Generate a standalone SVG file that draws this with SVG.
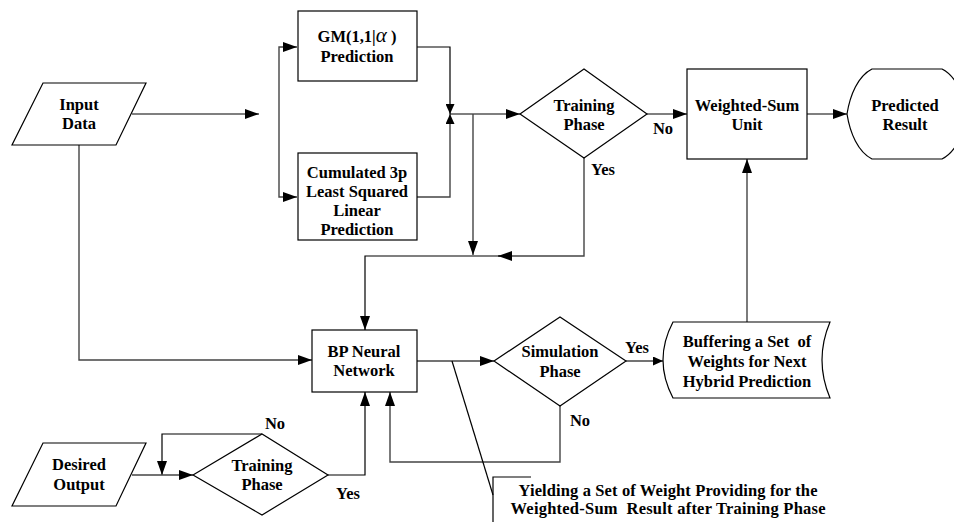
<svg xmlns="http://www.w3.org/2000/svg" width="954" height="522" viewBox="0 0 954 522">
<style>
.s{fill:#fff;stroke:#000;stroke-width:1.2}
.t{font-family:"Liberation Serif","Times New Roman",serif;font-weight:bold;font-size:16.5px;fill:#000;text-anchor:middle;white-space:pre}
.c{fill:none;stroke:#000;stroke-width:1.2}
.g{fill:none;stroke:#444;stroke-width:1.4}
</style>
<defs>
<marker id="a" markerUnits="userSpaceOnUse" markerWidth="14" markerHeight="10" refX="14" refY="5" orient="auto"><path d="M0,0 L14,5 L0,10 Z" fill="#000"/></marker>
<marker id="b" markerUnits="userSpaceOnUse" markerWidth="10" markerHeight="9" refX="10" refY="4.5" orient="auto"><path d="M0,0 L10,4.5 L0,9 Z" fill="#000"/></marker>
</defs>
<rect width="954" height="522" fill="#fff"/>
<g id="connectors">
<path class="c" d="M132,114 H259" marker-end="url(#a)"/>
<path class="g" d="M279,122 V47 H297" marker-end="url(#a)"/>
<path class="g" d="M279,122 V197 H297" marker-end="url(#a)"/>
<path class="c" d="M417,47 H450 V114" marker-end="url(#b)"/>
<path class="g" d="M417,197 H450 V114" marker-end="url(#b)"/>
<path class="c" d="M450,114 H520" marker-end="url(#a)"/>
<path class="g" d="M473,114 V255" marker-end="url(#a)"/>
<path class="g" d="M584,158 V256 H498" marker-end="url(#a)"/>
<path class="c" d="M500,256 H365 V330" marker-end="url(#a)"/>
<path class="c" d="M647,114 H687" marker-end="url(#a)"/>
<path class="c" d="M807,114 H847" marker-end="url(#a)"/>
<path class="g" d="M747,322 V159" marker-end="url(#a)"/>
<path class="g" d="M79,145 V360 H312" marker-end="url(#a)"/>
<path class="g" d="M417,361 H494" marker-end="url(#a)"/>
<path class="g" d="M626,361 H663" marker-end="url(#b)"/>
<path class="g" d="M560,406 V462 H390 V392" marker-end="url(#a)"/>
<path class="c" d="M328,475 H365 V392" marker-end="url(#a)"/>
<path class="c" d="M262,434 H162 V475" marker-end="url(#a)"/>
<path class="g" d="M132,475 H193" marker-end="url(#a)"/>
<path class="c" d="M452,361 L493,495"/>
<path class="c" d="M531,477 H493 V522"/>
</g>
<g id="input-data">
<path class="s" d="M43,83 H146 L116,145 H12 Z"/>
<text class="t" x="79" y="110">Input</text>
<text class="t" x="79" y="129">Data</text>
</g>
<g id="gm-prediction">
<rect class="s" x="298" y="11" width="119" height="70"/>
<text class="t" x="357" y="42">GM(1,1|<tspan font-style="italic" font-weight="normal" font-size="21">α</tspan> )</text>
<text class="t" x="357" y="62">Prediction</text>
</g>
<g id="cumulated-prediction">
<rect class="s" x="298" y="153" width="119" height="87"/>
<text class="t" x="357" y="178">Cumulated 3p</text>
<text class="t" x="357" y="197">Least Squared</text>
<text class="t" x="357" y="216">Linear</text>
<text class="t" x="357" y="235">Prediction</text>
</g>
<g id="training-phase-top">
<path class="s" d="M520,114 L584,69 L647,114 L584,158 Z"/>
<text class="t" x="584" y="111">Training</text>
<text class="t" x="584" y="130">Phase</text>
</g>
<g id="weighted-sum">
<rect class="s" x="687" y="69" width="120" height="90"/>
<text class="t" x="747" y="111">Weighted-Sum</text>
<text class="t" x="747" y="130">Unit</text>
</g>
<g id="predicted-result">
<path class="s" d="M872,69 H942 C956,76 964,95 967,114 C964,133 956,152 942,159 H872 C858,152 850,133 847,114 C850,95 858,76 872,69 Z"/>
<text class="t" x="905" y="111">Predicted</text>
<text class="t" x="905" y="130">Result</text>
</g>
<g id="bp-neural-network">
<rect class="s" x="312" y="330" width="105" height="62"/>
<text class="t" x="364" y="357">BP Neural</text>
<text class="t" x="364" y="376">Network</text>
</g>
<g id="simulation-phase">
<path class="s" d="M494,361 L560,317 L626,361 L560,406 Z"/>
<text class="t" x="560" y="357">Simulation</text>
<text class="t" x="560" y="377">Phase</text>
</g>
<g id="buffering">
<path class="s" d="M673,322 H830 Q814,360 830,398 H673 Q653,360 673,322 Z"/>
<text class="t" x="747" y="347">Buffering a Set  of</text>
<text class="t" x="747" y="367">Weights for Next</text>
<text class="t" x="747" y="387">Hybrid Prediction</text>
</g>
<g id="desired-output">
<path class="s" d="M43,443 H146 L116,506 H12 Z"/>
<text class="t" x="79" y="470">Desired</text>
<text class="t" x="79" y="490">Output</text>
</g>
<g id="training-phase-bottom">
<path class="s" d="M193,475 L262,434 L328,475 L262,515 Z"/>
<text class="t" x="262" y="471">Training</text>
<text class="t" x="262" y="490">Phase</text>
</g>
<g id="labels">
<text class="t" x="663" y="134">No</text>
<text class="t" x="603" y="175">Yes</text>
<text class="t" x="637" y="353">Yes</text>
<text class="t" x="580" y="426">No</text>
<text class="t" x="348" y="499">Yes</text>
<text class="t" x="275" y="429">No</text>
</g>
<g id="callout">
<text class="t" x="668" y="496" textLength="299" lengthAdjust="spacing">Yielding a Set of Weight Providing for the</text>
<text class="t" x="668" y="514" textLength="315" lengthAdjust="spacing">Weighted-Sum  Result after Training Phase</text>
</g>
</svg>
